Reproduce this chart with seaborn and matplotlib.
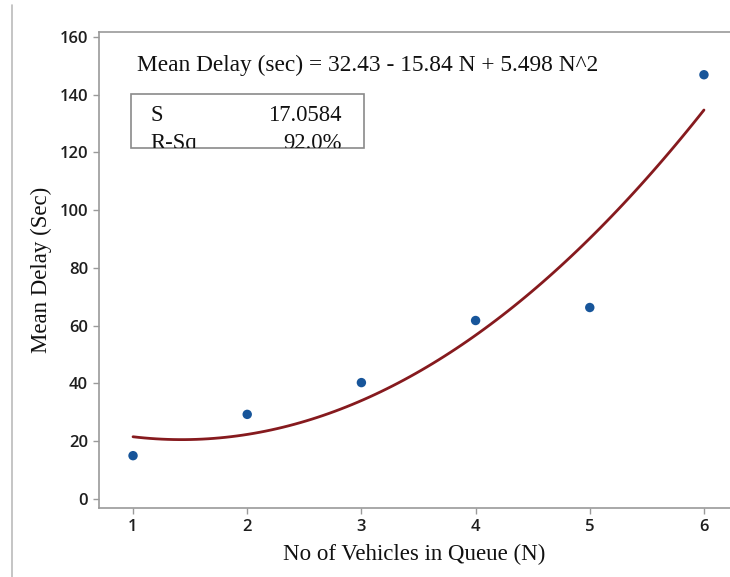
import matplotlib
matplotlib.use("Agg")
import matplotlib.pyplot as plt
import seaborn as sns
import pandas as pd
from matplotlib.patches import Rectangle
from matplotlib.lines import Line2D

# Data
queue_n = [1, 2, 3, 4, 5, 6]
mean_delay = [15.0, 29.3, 40.3, 61.8, 66.3, 146.9]
x_ticks = [1, 2, 3, 4, 5, 6]
y_ticks = [0, 20, 40, 60, 80, 100, 120, 140, 160]
equation_text = "Mean Delay (sec) = 32.43 - 15.84 N + 5.498 N^2"
stat_names = ["S", "R-Sq"]
stat_values = ["17.0584", "92.0%"]

df = pd.DataFrame({"N": queue_n, "delay": mean_delay})

sns.set_theme(style="white")
W, H = 730, 577
fig = plt.figure(figsize=(W / 100, H / 100), dpi=100)
ax = fig.add_axes([99 / W, (H - 508) / H, 1 - 99 / W, (508 - 32) / H])

sns.regplot(data=df, x="N", y="delay", order=2, ci=None, ax=ax,
            scatter_kws=dict(color="#17559a", s=46, edgecolor="none", alpha=1, zorder=3),
            line_kws=dict(color="#861a1e", lw=2.0, zorder=2))

ax.set_xlim(0.702, 6.228)
ax.set_ylim(-3.12, 161.7)
ax.set_xticks(x_ticks)
ax.set_yticks(y_ticks)

spine_col = "#9a9a9a"
for s in ["left", "bottom", "top"]:
    ax.spines[s].set_color(spine_col)
    ax.spines[s].set_linewidth(1.2)
ax.spines["right"].set_visible(False)

ax.tick_params(axis="both", which="both", direction="out", length=4, width=1,
               color=spine_col, labelsize=12, labelcolor="#1e1e1e", pad=4,
               left=True, bottom=True)
for lab in ax.get_xticklabels() + ax.get_yticklabels():
    lab.set_fontfamily("Open Sans")
    lab.set_fontweight("semibold")

serif = "Liberation Serif"
ax.set_xlabel("No of Vehicles in Queue (N)", fontfamily=serif, fontsize=16.5,
              color="#111111", labelpad=6)
ax.set_ylabel("Mean Delay (Sec)", fontfamily=serif, fontsize=16.5,
              color="#111111", labelpad=5)

# Equation
fig.text(137 / W, 1 - 71 / H, equation_text, fontfamily=serif, fontsize=16.8,
         color="#111111", ha="left", va="baseline")

# Stats box (clipped at bottom)
bx0, bx1, by0, by1 = 131, 364, 94, 148
rect = Rectangle((bx0 / W, 1 - by1 / H), (bx1 - bx0) / W, (by1 - by0) / H,
                 transform=fig.transFigure, facecolor="none",
                 edgecolor="#8a8a8a", lw=1.2)
fig.add_artist(rect)
clip_rect = Rectangle((bx0 / W, 1 - by1 / H), (bx1 - bx0) / W, (by1 - by0) / H,
                      transform=fig.transFigure, facecolor="none", edgecolor="none")
fig.add_artist(clip_rect)
row_y = [121, 149]
for name, val, yy in zip(stat_names, stat_values, row_y):
    t1 = fig.text(150 / W, 1 - yy / H, name, fontfamily=serif, fontsize=16.3,
                  color="#111111", ha="left", va="baseline")
    t2 = fig.text(342 / W, 1 - yy / H, val, fontfamily=serif, fontsize=16.3,
                  color="#111111", ha="right", va="baseline")
    t1.set_clip_path(clip_rect)
    t2.set_clip_path(clip_rect)

# left border line of the original image
fig.add_artist(Line2D([12 / W, 12 / W], [0, 1 - 5 / H], transform=fig.transFigure,
                      color="#bbbbbb", lw=1.2))

fig.savefig("out.png", dpi=100)
